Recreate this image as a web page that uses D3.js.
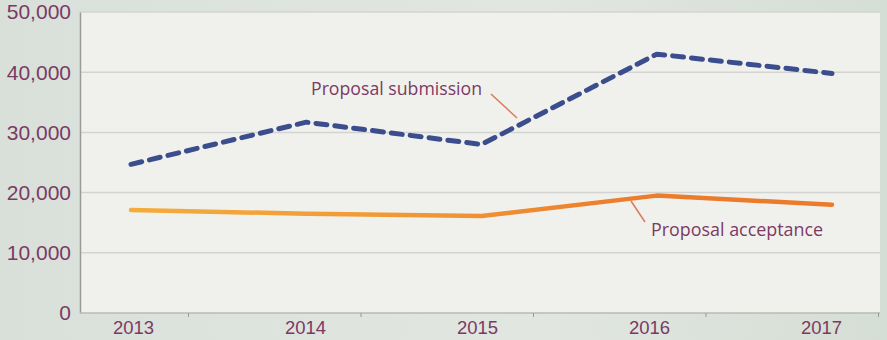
<!DOCTYPE html>
<html><head><meta charset="utf-8">
<script src="https://cdn.jsdelivr.net/npm/d3@7/dist/d3.min.js"></script>
<style>
html,body{margin:0;padding:0;background:#dce2dc;}
svg{display:block;font-family:"Open Sans","Noto Sans",sans-serif;}
</style></head>
<body><svg id="c" width="887" height="340"></svg>
<script>
const years = ["2013","2014","2015","2016","2017"];
const submission = [24700, 31700, 28000, 43000, 39800];
const acceptance = [17100, 16500, 16100, 19500, 18000];
const yTicks = [0, 10000, 20000, 30000, 40000, 50000];
const seriesLabels = ["Proposal submission", "Proposal acceptance"];

const svg = d3.select("#c");
const W = 887, H = 340;
const plot = {left: 80, right: 880, top: 12, bottom: 313};

const defs = svg.append("defs");
const bg = defs.append("linearGradient").attr("id","bg").attr("x1","0").attr("x2","1").attr("y1","0").attr("y2","0");
bg.append("stop").attr("offset","0").attr("stop-color","#d9e0da");
bg.append("stop").attr("offset","0.6").attr("stop-color","#e2e6e1");
bg.append("stop").attr("offset","1").attr("stop-color","#d5ded5");
svg.append("rect").attr("width",W).attr("height",H).attr("fill","url(#bg)");

const og = defs.append("linearGradient").attr("id","og").attr("gradientUnits","userSpaceOnUse")
  .attr("x1",130).attr("x2",835).attr("y1",0).attr("y2",0);
og.append("stop").attr("offset","0").attr("stop-color","#f4ac3c");
og.append("stop").attr("offset","0.45").attr("stop-color","#f09535");
og.append("stop").attr("offset","0.7").attr("stop-color","#ec7d2c");
og.append("stop").attr("offset","1").attr("stop-color","#eb7a2b");

svg.append("rect").attr("x",plot.left).attr("y",plot.top)
  .attr("width",plot.right-plot.left).attr("height",plot.bottom-plot.top)
  .attr("fill","#f0f1ed");

const y = d3.scaleLinear().domain([0,50000]).range([plot.bottom, plot.top]);
const xPts = d3.scalePoint().domain(years).range([131, 832]);
const xLab = d3.scalePoint().domain(years).range([133, 821]);
const xTickPos = d3.scalePoint().domain(years).range([188, 878]);

svg.append("g").selectAll("line").data(yTicks.filter(d=>d>0)).join("line")
  .attr("x1",plot.left).attr("x2",plot.right)
  .attr("y1",d=>y(d)).attr("y2",d=>y(d))
  .attr("stroke","#d3d4d1").attr("stroke-width",1.5);

const yAxis = d3.axisLeft(y).tickValues(yTicks).tickSize(0).tickPadding(9)
  .tickFormat(d3.format(","));
const gy = svg.append("g").attr("transform",`translate(${plot.left},0)`).call(yAxis);
gy.select(".domain").attr("stroke","#9a9a9a").attr("stroke-width",1.5);
gy.selectAll("text").attr("fill","#7b3a63").attr("font-size",21).attr("dy","0.33em");

svg.append("line").attr("x1",plot.left).attr("x2",plot.right)
  .attr("y1",plot.bottom).attr("y2",plot.bottom).attr("stroke","#b8bab6").attr("stroke-width",1.5);
const gxt = svg.append("g").attr("transform",`translate(0,${plot.bottom})`)
  .call(d3.axisBottom(xTickPos).tickSize(4).tickFormat(""));
gxt.select(".domain").remove();
gxt.selectAll("line").attr("stroke","#999");
const gx = svg.append("g").attr("transform",`translate(0,${plot.bottom})`)
  .call(d3.axisBottom(xLab).tickSize(0).tickPadding(8));
gx.select(".domain").remove();
gx.selectAll("text").attr("fill","#7b3a63").attr("font-size",18.5).attr("dy","0.71em");

const line = d3.line().x((d,i)=>xPts(years[i])).y(d=>y(d));

svg.append("path").datum(acceptance).attr("d",line)
  .attr("fill","none").attr("stroke","url(#og)").attr("stroke-width",4.5)
  .attr("stroke-linecap","round").attr("stroke-linejoin","round");

svg.append("path").datum(submission).attr("d",line)
  .attr("fill","none").attr("stroke","#3c4d8e").attr("stroke-width",5)
  .attr("stroke-dasharray","11,8").attr("stroke-linecap","round").attr("stroke-linejoin","round");

svg.append("line").attr("x1",491).attr("y1",94).attr("x2",517).attr("y2",118)
  .attr("stroke","#d97b5c").attr("stroke-width",1.5);
svg.append("text").attr("x",311).attr("y",95).text(seriesLabels[0])
  .attr("fill","#7b3a63").attr("font-size",17.7);

svg.append("line").attr("x1",631).attr("y1",201).attr("x2",645).attr("y2",222)
  .attr("stroke","#d97b5c").attr("stroke-width",1.5);
svg.append("text").attr("x",651).attr("y",236).text(seriesLabels[1])
  .attr("fill","#7b3a63").attr("font-size",17.9);
</script></body></html>
